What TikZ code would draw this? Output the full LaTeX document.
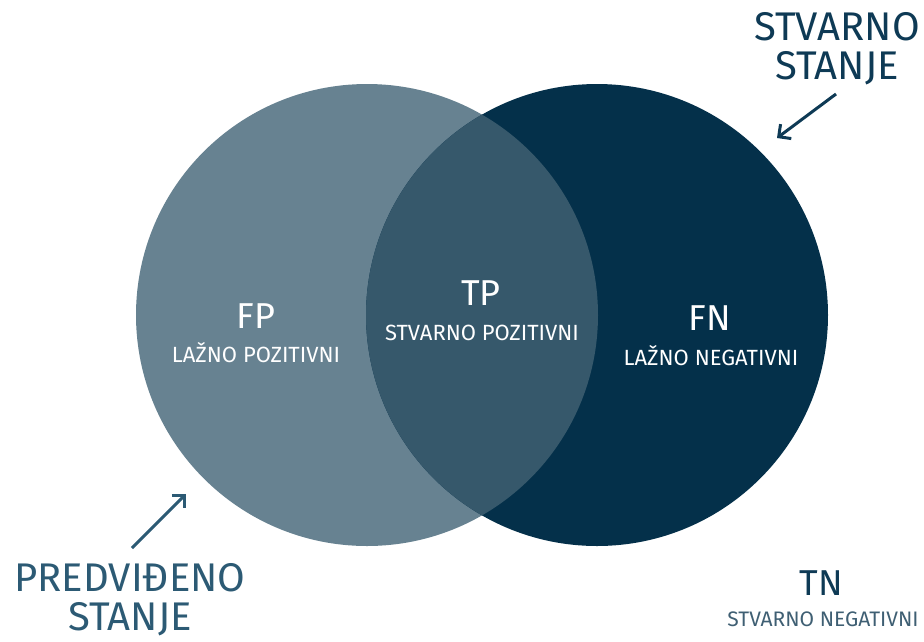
\documentclass[tikz,border=0pt]{standalone}
\usepackage{fontspec}
\setmainfont{Fira Sans}
\usetikzlibrary{arrows.meta}

\definecolor{predcol}{HTML}{678291}
\definecolor{bothcol}{HTML}{36586B}
\definecolor{truecol}{HTML}{04304A}
\definecolor{navytext}{HTML}{0E3A55}
\definecolor{bluetext}{HTML}{2C5A74}
\definecolor{greytext}{HTML}{3F5F73}

\begin{document}
\begin{tikzpicture}[
    x=1pt, y=-1pt,
    every node/.style={inner sep=0pt},
    big/.style={font=\fontsize{36}{36}\selectfont, text=white, anchor=base},
    small/.style={font=\fontsize{22}{22}\selectfont, text=white, anchor=base},
    title/.style={font=\fontsize{40}{39}\selectfont, align=center, anchor=north},
    pointer/.style={line width=3pt, -{Straight Barb[length=9pt, width=18pt]}}
    ]

    \useasboundingbox (0,0) rectangle (924,641);

    % the two sets
    \fill[predcol] (367,315) circle (231);
    \fill[truecol] (597,315) circle (231);
    \begin{scope}
      \clip (367,315) circle (231);
      \fill[bothcol] (597,315) circle (231);
    \end{scope}

    % labels inside
    \node[big] (fp) at (256,328) {FP};
    \node[small] (fpsub) at (256,362) {LAŽNO POZITIVNI};
    \node[big] (tp) at (481,305) {TP};
    \node[small] (tpsub) at (482,340) {STVARNO POZITIVNI};
    \node[big] (fn) at (710,330) {FN};
    \node[small] (fnsub) at (711,365) {LAŽNO NEGATIVNI};

    % outside
    \node[big, text=navytext] (tn) at (821,595) {TN};
    \node[small, text=greytext, font=\fontsize{21}{21}\selectfont] (tnsub) at (823,626) {STVARNO NEGATIVNI};

    \node[title, text=navytext] (real) at (837,12) {STVARNO\\STANJE};
    \node[title, text=bluetext] (pred) at (130,563) {PREDVIĐENO\\STANJE};

    \coordinate (realtail) at (836,94);
    \coordinate (realhead) at (777,138);
    \coordinate (predtail) at (132,548);
    \coordinate (predhead) at (186,494);

    \draw[pointer, navytext] (realtail) -- (realhead);
    \draw[pointer, bluetext] (predtail) -- (predhead);

  \end{tikzpicture}
\end{document}
